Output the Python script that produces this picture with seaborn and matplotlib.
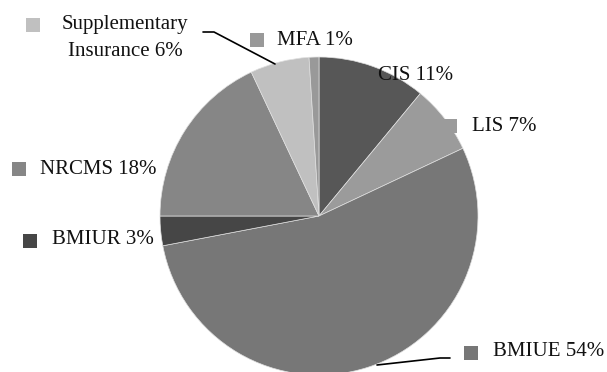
import matplotlib
matplotlib.use("Agg")
import matplotlib.pyplot as plt
from matplotlib.patches import Rectangle
from matplotlib.lines import Line2D
import seaborn as sns

# Shares of the social assistance / insurance programmes (%)
programmes = ["CIS", "LIS", "BMIUE", "BMIUR", "NRCMS", "Supplementary\nInsurance", "MFA"]
shares = [11, 7, 54, 3, 18, 6, 1]
label_texts = [f"{p} {s}%" for p, s in zip(programmes, shares)]
greys = ["#575757", "#9b9b9b", "#777777", "#464646", "#868686", "#c0c0c0", "#999999"]

sns.set_theme(style="white")
plt.rcParams["font.family"] = ["Liberation Serif", "DejaVu Serif"]

W, H = 607, 372
fig = plt.figure(figsize=(W / 100, H / 100), dpi=100)
fig.patch.set_facecolor("white")


def fx(x):
    return x / W


def fy(y):
    return 1 - y / H


# Pie placed with its centre and radius given in pixels
cx, cy, r = 319, 216, 159
ax = fig.add_axes([fx(cx - r), fy(cy + r), 2 * r / W, 2 * r / H])
ax.pie(shares, colors=sns.color_palette(greys), startangle=90, counterclock=False,
       radius=1, wedgeprops=dict(edgecolor="#e0e0e0", linewidth=0.5))
ax.set_xlim(-1, 1)
ax.set_ylim(-1, 1)
ax.set_aspect("auto")
ax.axis("off")

# Label layout: square marker (x, y) and text anchor (x, baseline) in pixels
layout = {
    "CIS": (None, (378, 80)),
    "LIS": ((443, 119), (472, 131)),
    "BMIUE": ((464, 346), (493, 356)),
    "BMIUR": ((23, 234), (52, 244)),
    "NRCMS": ((12, 162), (40, 174)),
    "Supplementary\nInsurance": ((26, 18), None),
    "MFA": ((250, 33), (277, 45)),
}
sq = 14
fs = 15
for name, text, col in zip(programmes, label_texts, greys):
    box, anchor = layout[name]
    if box is not None:
        fig.patches.append(Rectangle((fx(box[0]), fy(box[1] + sq)), sq / W, sq / H,
                                     transform=fig.transFigure, facecolor=col,
                                     edgecolor="none", zorder=5))
    if anchor is not None:
        fig.text(fx(anchor[0]), fy(anchor[1]), text, fontsize=fs, color="#111111",
                 va="baseline", ha="left", zorder=6)

# Two-line label for the supplementary insurance slice
fig.text(fx(125), fy(29), "Supplementary", fontsize=fs, color="#111111",
         va="baseline", ha="center", zorder=6)
fig.text(fx(125), fy(56), f"Insurance {shares[5]}%", fontsize=fs, color="#111111",
         va="baseline", ha="center", zorder=6)

# Leader lines
for xs, ys in [((203, 214, 275), (32, 32, 64)), ((377, 440, 450), (365, 358, 358))]:
    fig.lines.append(Line2D([fx(x) for x in xs], [fy(y) for y in ys],
                            transform=fig.transFigure, color="black", linewidth=1.2,
                            zorder=6))

fig.savefig("out.png", dpi=100, facecolor="white")
